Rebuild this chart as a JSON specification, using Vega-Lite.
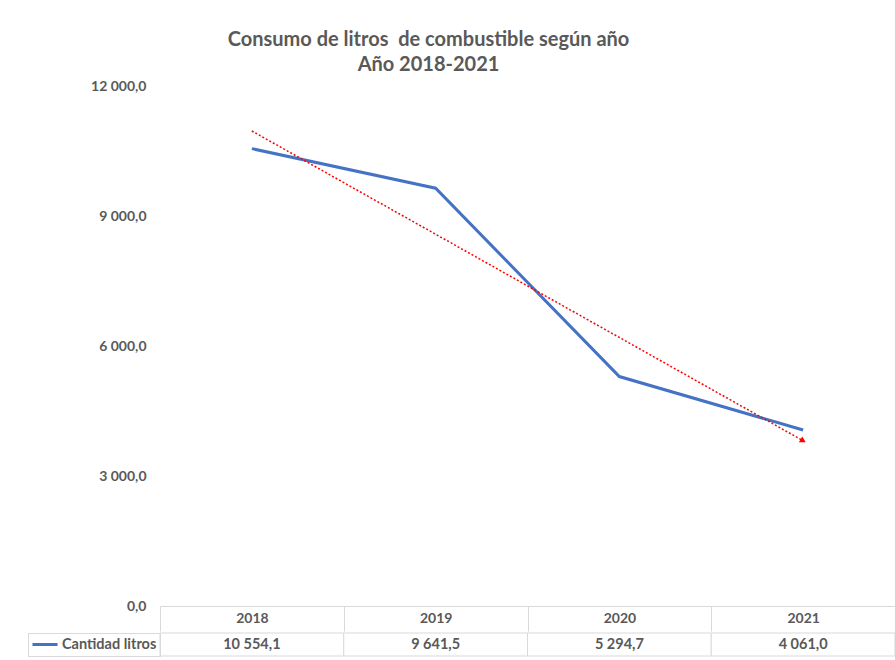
{
  "$schema": "https://vega.github.io/schema/vega-lite/v6.json",
  "background": "white",
  "padding": {"left": 27, "top": 30, "right": 0, "bottom": 0},
  "title": {
    "text": ["Consumo de litros \u00a0de combustible según año", "Año 2018-2021"],
    "font": "Lato",
    "fontSize": 20,
    "fontWeight": "bold",
    "color": "#595959",
    "lineHeight": 25,
    "anchor": "middle",
    "dx": -33,
    "offset": 4
  },
  "config": {
    "locale": {"number": {"decimal": ",", "thousands": " ", "grouping": [3], "currency": ["", ""]}},
    "font": "Lato",
    "view": {"stroke": null}
  },
  "datasets": {
    "main": [
      {"year": "2018", "litros": 10554.1, "trend": 10961.7, "serie": "Cantidad litros"},
      {"year": "2019", "litros": 9641.5, "serie": "Cantidad litros"},
      {"year": "2020", "litros": 5294.7, "serie": "Cantidad litros"},
      {"year": "2021", "litros": 4061.0, "trend": 3813.9, "serie": "Cantidad litros"}
    ]
  },
  "spacing": 0,
  "resolve": {"scale": {"stroke": "independent"}, "legend": {"stroke": "independent"}},
  "vconcat": [
    {
      "width": 735,
      "height": 520,
      "data": {"name": "main"},
      "encoding": {
        "x": {
          "field": "year",
          "type": "ordinal",
          "scale": {"type": "band", "paddingInner": 0, "paddingOuter": 0},
          "axis": {
            "title": null,
            "orient": "bottom",
            "domainColor": "#D9D9D9",
            "tickColor": "#D9D9D9",
            "tickSize": 25,
            "tickBand": "extent",
            "labelPadding": -20,
            "labelAngle": 0,
            "labelFont": "Lato",
            "labelFontWeight": "bold",
            "labelFontSize": 14,
            "labelColor": "#595959",
            "grid": false
          }
        }
      },
      "layer": [
        {
          "mark": {"type": "line", "color": "#4472C4", "strokeWidth": 3},
          "encoding": {
            "y": {
              "field": "litros",
              "type": "quantitative",
              "scale": {"domain": [0, 12000]},
              "axis": {
                "title": null,
                "values": [0, 3000, 6000, 9000, 12000],
                "format": ",.1f",
                "domain": false,
                "ticks": false,
                "grid": false,
                "labelPadding": 14,
                "labelFont": "Lato",
                "labelFontWeight": "bold",
                "labelFontSize": 14,
                "labelColor": "#595959"
              }
            }
          }
        },
        {
          "transform": [{"filter": "isValid(datum.trend)"}],
          "mark": {"type": "line", "color": "#FF0000", "strokeWidth": 1.5, "strokeDash": [2, 2]},
          "encoding": {"y": {"field": "trend", "type": "quantitative"}}
        },
        {
          "transform": [{"filter": "datum.year == '2021'"}],
          "mark": {"type": "point", "shape": "triangle-right", "filled": true, "color": "#FF0000", "size": 45, "angle": 29.5, "opacity": 1},
          "encoding": {"y": {"field": "trend", "type": "quantitative"}}
        }
      ]
    },
    {
      "width": 735,
      "height": 23,
      "data": {"name": "main"},
      "encoding": {
        "x": {
          "field": "year",
          "type": "ordinal",
          "scale": {"type": "band", "paddingInner": 0, "paddingOuter": 0},
          "axis": null
        }
      },
      "layer": [
        {"mark": {"type": "rect", "fill": "white", "stroke": "#D9D9D9", "strokeWidth": 1}},
        {
          "mark": {"type": "text", "fill": "#595959", "font": "Lato", "fontWeight": "bold", "fontSize": 14.5, "strokeWidth": 0, "baseline": "middle"},
          "encoding": {
            "text": {"field": "litros", "type": "quantitative", "format": ",.1f"},
            "stroke": {
              "field": "serie",
              "type": "nominal",
              "scale": {"range": ["#4472C4"]},
              "legend": {
                "orient": "left",
                "offset": 0,
                "title": null,
                "padding": 3,
                "clipHeight": 17,
                "strokeColor": "#D9D9D9",
                "symbolType": "stroke",
                "symbolSize": 625,
                "symbolStrokeWidth": 3,
                "symbolStrokeColor": "#4472C4",
                "labelFont": "Lato",
                "labelFontWeight": "bold",
                "labelFontSize": 14.5,
                "labelColor": "#595959",
                "labelOffset": 3
              }
            }
          }
        }
      ]
    }
  ]
}
